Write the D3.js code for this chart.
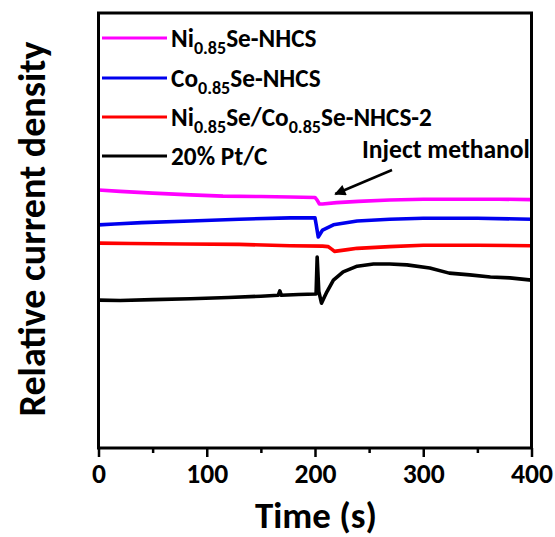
<!DOCTYPE html>
<html>
<head>
<meta charset="utf-8">
<script src="https://cdn.jsdelivr.net/npm/d3@7"></script>
<style>
  html, body { margin: 0; padding: 0; background: #fff; }
  svg { display: block; }
  text { font-family: Carlito, Calibri, "Open Sans", Lato, sans-serif; font-weight: bold; fill: #000; }
</style>
</head>
<body>
<svg id="chart" width="555" height="537"></svg>
<script>
// ---- data ----
const xTicks = [0, 100, 200, 300, 400];
const xMinorTicks = [50, 150, 250, 350];
const seriesColors = ["#ff00ff", "#0000ee", "#ff0000", "#000000"];

const niSeData = [[0,59.3],[20,59.0],[50,58.6],[85,58.2],[115,57.9],[150,57.8],[177,57.7],[200,57.6],[202,57.0],[204,56.1],[207,56.1],[220,56.4],[240,56.7],[269,57.0],[300,57.2],[340,57.2],[370,57.2],[400,57.1]];
const coSeData = [[0,51.3],[15,51.5],[40,51.8],[85,52.2],[130,52.6],[177,52.9],[200,52.9],[201,51.5],[203,48.5],[207,50.1],[217,51.3],[239,52.2],[269,52.6],[300,52.8],[350,52.8],[400,52.6]];
const niCoSeData = [[0,47.1],[30,47.0],[80,46.9],[130,46.8],[177,46.5],[207,46.4],[212,46.3],[216,45.6],[218,45.2],[230,45.6],[239,45.9],[269,46.3],[300,46.6],[350,46.6],[400,46.5]];
const ptCData = [[0,34.0],[20,33.9],[50,34.1],[85,34.3],[120,34.6],[150,34.9],[166,35.1],[167.5,36.1],[169,35.1],[185,35.3],[201,35.4],[202,43.9],[203.5,36.0],[206,33.3],[211,35.9],[217,38.6],[226,40.5],[239,41.8],[254,42.3],[269,42.3],[285,42.1],[306,41.4],[324,40.2],[343,39.8],[362,39.3],[380,39.1],[400,38.6]];

// legend labels: [text, isSubscript]
const legendParts = [
  [["Ni", false], ["0.85", true], ["Se-NHCS", false]],
  [["Co", false], ["0.85", true], ["Se-NHCS", false]],
  [["Ni", false], ["0.85", true], ["Se/Co", false], ["0.85", true], ["Se-NHCS-2", false]],
  [["20% Pt/C", false]]
];
const annotationText = "Inject methanol";
const injectTime = 203;

// ---- layout ----
const svg = d3.select("#chart");
const L = 98.5, R = 531.5, T = 13, B = 448;
const x = d3.scaleLinear().domain([0, 400]).range([L, R]);
const y = d3.scaleLinear().domain([0, 100]).range([B, T]);

// scale a text element's font-size(s) so its width equals w
function fitWidth(sel, w) {
  const cur = sel.node().getComputedTextLength();
  const k = w / cur;
  sel.attr("font-size", +sel.attr("font-size") * k);
  sel.selectAll("tspan").each(function () {
    const t = d3.select(this);
    if (t.attr("font-size")) t.attr("font-size", +t.attr("font-size") * k);
    if (t.attr("dy")) t.attr("dy", +t.attr("dy") * k);
  });
  return k;
}

// curves
const allSeries = [niSeData, coSeData, niCoSeData, ptCData];
const line = d3.line().x(d => x(d[0])).y(d => y(d[1]));
allSeries.forEach((s, i) => {
  svg.append("path").datum(s)
    .attr("d", line)
    .attr("fill", "none")
    .attr("stroke", seriesColors[i])
    .attr("stroke-width", 3.6)
    .attr("stroke-linejoin", "round");
});

// frame
svg.append("rect").attr("x", L).attr("y", T).attr("width", R - L).attr("height", B - T)
  .attr("fill", "none").attr("stroke", "#000").attr("stroke-width", 3);

// x axis
const gx = svg.append("g").attr("transform", `translate(0,${B})`)
  .call(d3.axisBottom(x).tickValues(xTicks).tickSize(9).tickPadding(0).tickFormat(d3.format("d")));
gx.select(".domain").remove();
gx.selectAll(".tick line").attr("stroke", "#000").attr("stroke-width", 2.5);
gx.selectAll(".tick text").attr("font-size", 22).attr("font-family", null)
  .attr("y", 35).attr("dy", null);
gx.selectAll(".tick text").each(function () { fitWidth(d3.select(this), 42 * this.textContent.length / 3); });
const gxm = svg.append("g").attr("transform", `translate(0,${B})`)
  .call(d3.axisBottom(x).tickValues(xMinorTicks).tickSize(5).tickFormat(""));
gxm.select(".domain").remove();
gxm.selectAll(".tick line").attr("stroke", "#000").attr("stroke-width", 2.5);

// axis titles
const xt = svg.append("text").attr("x", 316).attr("y", 528).attr("text-anchor", "middle")
  .attr("font-size", 30).text("Time (s)");
fitWidth(xt, 122);
const yt = svg.append("text").attr("transform", "translate(45,229) rotate(-90)").attr("text-anchor", "middle")
  .attr("font-size", 32).text("Relative current density");
fitWidth(yt, 375);

// legend
const legendY = [38, 78, 117, 156];
const legendTexts = [];
legendParts.forEach((parts, i) => {
  const ly = legendY[i];
  svg.append("line").attr("x1", 102).attr("x2", 167).attr("y1", ly).attr("y2", ly)
    .attr("stroke", seriesColors[i]).attr("stroke-width", 2.8);
  const t = svg.append("text").attr("x", 171).attr("y", ly + 9).attr("font-size", 21);
  let sub = false;
  parts.forEach(([str, isSub]) => {
    const ts = t.append("tspan").text(str);
    if (isSub) ts.attr("font-size", 15);
    if (isSub && !sub) { ts.attr("dy", 6); sub = true; }
    else if (!isSub && sub) { ts.attr("dy", -6); sub = false; }
  });
  legendTexts.push(t);
});
const kLeg = legendTexts[2].node().getComputedTextLength();
const kScale = 261 / kLeg;
legendTexts.forEach(t => {
  t.attr("font-size", 21 * kScale);
  t.selectAll("tspan").each(function () {
    const s = d3.select(this);
    if (s.attr("font-size")) s.attr("font-size", 15 * kScale);
    if (s.attr("dy")) s.attr("dy", +s.attr("dy") * kScale);
  });
});

// annotation
const at = svg.append("text").attr("x", 362).attr("y", 158).attr("font-size", 21).text(annotationText);
fitWidth(at, 168);
svg.append("defs").append("marker").attr("id", "ah").attr("viewBox", "0 0 10 10")
  .attr("refX", 9).attr("refY", 5).attr("markerWidth", 5.5).attr("markerHeight", 4.5)
  .attr("markerUnits", "strokeWidth").attr("orient", "auto")
  .append("path").attr("d", "M0,0 L10,5 L0,10 z").attr("fill", "#000");
svg.append("line").attr("x1", 392).attr("y1", 170).attr("x2", x(injectTime) + 17).attr("y2", 194)
  .attr("stroke", "#000").attr("stroke-width", 2.5).attr("marker-end", "url(#ah)");
</script>
</body>
</html>
